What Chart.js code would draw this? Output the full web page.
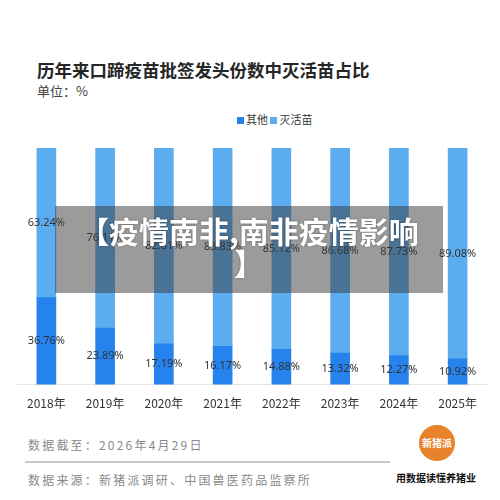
<!DOCTYPE html>
<html>
<head>
<meta charset="utf-8">
<script src="https://cdn.jsdelivr.net/npm/chart.js@4/dist/chart.umd.min.js"></script>
<style>
  html, body { margin: 0; padding: 0; background: #fff; }
  body { width: 500px; height: 500px; position: relative; overflow: hidden;
         font-family: "Noto Sans CJK SC", "Noto Sans", sans-serif; }
  #title { position: absolute; left: 37px; top: 57px; font-size: 17.5px; font-weight: bold; color: #262626; white-space: nowrap; }
  #unit { position: absolute; left: 37px; top: 81px; font-size: 13px; color: #404040; }
  #legend { position: absolute; left: 237px; top: 111px; font-size: 11px; color: #333; white-space: nowrap; }
  #legend span.box { display: inline-block; width: 7px; height: 7px; margin-right: 2px; vertical-align: 0px; }
  #chartBox { position: absolute; left: 0; top: 140px; width: 500px; height: 275px; }
  #banner { position: absolute; left: 55px; top: 206px; width: 388px; height: 87px;
            background: rgba(55, 55, 55, 0.5); color: #fff; font-weight: bold; font-size: 30px;
            text-align: center; line-height: 32px; padding-top: 8px; box-sizing: border-box;
            text-shadow: 0 0 2px rgba(0,0,0,0.4); white-space: nowrap; }
  .foot { position: absolute; left: 28px; font-size: 12px; color: #8a8a8a; letter-spacing: 2.2px; white-space: nowrap; }
  #rule { position: absolute; left: 25px; top: 461px; width: 365px; height: 2px; background: #c8c8c8; }
  #logo { position: absolute; left: 419px; top: 425px; width: 36px; height: 36px; border-radius: 50%;
          background: #e8832a; color: #fff; font-size: 10px; font-weight: bold; text-align: center; line-height: 36px; }
  #slogan { position: absolute; left: 386px; top: 470px; width: 100px; text-align: center; font-size: 10px; font-weight: bold; color: #111; }
</style>
</head>
<body>
<div id="title">历年来口蹄疫苗批签发头份数中灭活苗占比</div>
<div id="unit">单位：%</div>
<div id="legend"><span class="box" style="background:#2683ee"></span>其他 <span class="box" style="background:#5cacf0"></span>灭活苗</div>
<div id="chartBox"><canvas id="chart"></canvas></div>
<div id="banner">【疫情南非,南非疫情影响<br>】</div>
<div class="foot" style="top:436px">数据截至：2026年4月29日</div>
<div id="rule"></div>
<div class="foot" style="top:471px">数据来源：新猪派调研、中国兽医药品监察所</div>
<div id="logo">新猪派</div>
<div id="slogan">用数据读懂养猪业</div>
<script>
const years = ['2018年', '2019年', '2020年', '2021年', '2022年', '2023年', '2024年', '2025年'];
const otherShare = [36.76, 23.89, 17.19, 16.17, 14.88, 13.32, 12.27, 10.92];
const inactivatedShare = [63.24, 76.11, 82.81, 83.83, 85.12, 86.68, 87.73, 89.08];

// draw value labels in the middle of each segment
const segmentLabels = {
    id: 'segmentLabels',
    afterDatasetsDraw(chart) {
        const ctx = chart.ctx;
        ctx.save();
        ctx.font = '11px "Noto Sans", "DejaVu Sans", sans-serif';
        ctx.fillStyle = '#333';
        ctx.textAlign = 'center';
        ctx.textBaseline = 'middle';
        chart.data.datasets.forEach((ds, i) => {
            const meta = chart.getDatasetMeta(i);
            meta.data.forEach((bar, j) => {
                const y = (bar.y + bar.base) / 2;
                ctx.fillText(ds.data[j].toFixed(2) + '%', bar.x, y);
            });
        });
        ctx.restore();
    }
};

const ctx = document.getElementById('chart').getContext('2d');
const myChart = new Chart(ctx, {
    type: 'bar',
    data: {
        labels: years,
        datasets: [{
            label: '其他',
            data: otherShare,
            backgroundColor: '#2683ee',
        }, {
            label: '灭活苗',
            data: inactivatedShare,
            backgroundColor: '#5cacf0',
        }]
    },
    options: {
        responsive: true,
        maintainAspectRatio: false,
        animation: false,
        layout: { padding: { left: 17, right: 13, top: 8, bottom: 0 } },
        datasets: { bar: { barThickness: 19 } },
        plugins: {
            legend: { display: false },
            tooltip: { enabled: false }
        },
        scales: {
            x: {
                stacked: true,
                grid: { display: false },
                border: { display: true, color: '#e6e6e6' },
                ticks: { color: '#333', font: { size: 12, family: '"Noto Sans CJK SC"' }, padding: 4 }
            },
            y: {
                stacked: true,
                display: false,
                min: 0,
                max: 100
            }
        }
    },
    plugins: [segmentLabels]
});
</script>
</body>
</html>
